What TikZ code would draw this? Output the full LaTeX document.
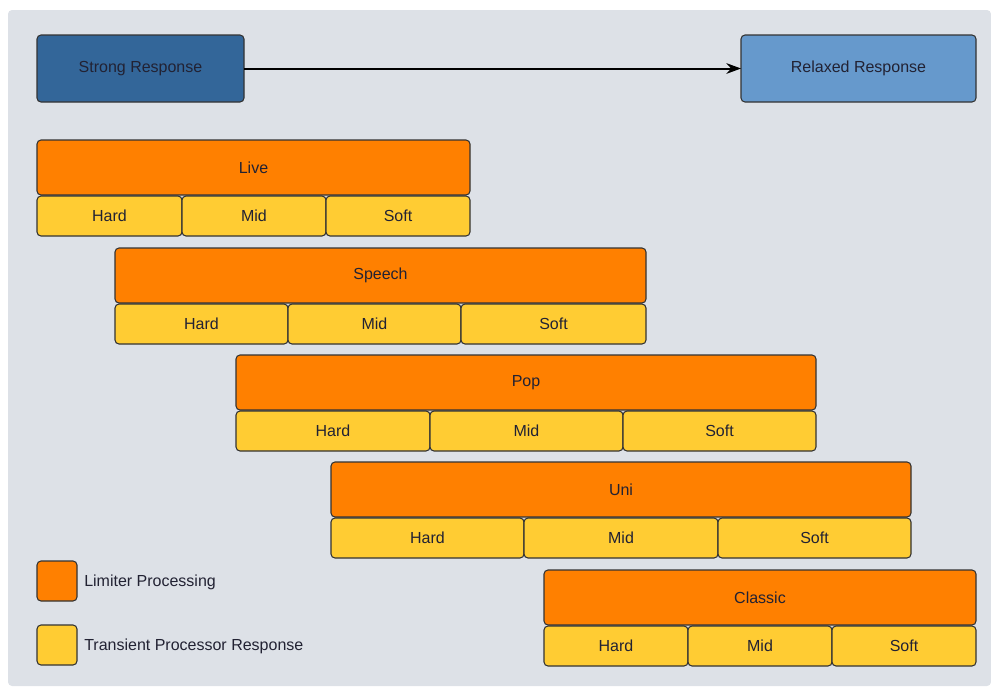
\documentclass[tikz,border=0pt]{standalone}
\usepackage{fontspec}
\setmainfont{Liberation Sans}
\definecolor{bgGrey}{HTML}{DDE1E7}
\definecolor{rDarkBlue}{HTML}{336699}
\definecolor{rLightBlue}{HTML}{6699CC}
\definecolor{limOrange}{HTML}{FF8000}
\definecolor{tranYellow}{HTML}{FFCC33}
\definecolor{edgeDark}{HTML}{333333}
\definecolor{txtDark}{HTML}{222233}
\usepackage{tikz}
\usetikzlibrary{positioning,arrows.meta}

\begin{document}
\begin{tikzpicture}[x=0.75pt, y=-0.75pt,
  every node/.style={font=\fontsize{12}{14}\selectfont, text=txtDark},
  cell/.style={draw=edgeDark, line width=0.8pt, rounded corners=3pt, inner sep=0pt, outer sep=0pt},
  respbox/.style={cell, minimum height=67*0.75pt},
  limbox/.style={cell, fill=limOrange, minimum height=55*0.75pt},
  tranbox/.style={cell, fill=tranYellow, minimum height=40*0.75pt},
  legbox/.style={cell, minimum width=40*0.75pt, minimum height=40*0.75pt}]
\useasboundingbox (0,0) rectangle (991,686);
\fill[bgGrey, rounded corners=3pt] (8,10) rectangle (991,686);
% response scale
\node[respbox, fill=rDarkBlue, minimum width=207*0.75pt] (strong) at (140.5,68.5) {Strong Response};
\node[respbox, fill=rLightBlue, minimum width=235*0.75pt] (relaxed) at (858.5,68.5) {Relaxed Response};
\draw[-{Stealth[length=11pt, width=8pt]}, line width=1.5pt] (strong.east) -- (relaxed.west);
% presets: name / left / divider 1 / divider 2 / right / top
\foreach \preset/\lx/\ax/\bx/\rx/\ty in {Live/37/182/326/470/140, Speech/115/288/461/646/248, Pop/236/430/623/816/355, Uni/331/524/718/911/462, Classic/544/688/832/976/570} {
  \node[limbox, minimum width={(\rx-\lx)*0.75pt}] (\preset) at ({(\lx+\rx)/2},{\ty+27.5}) {\preset};
  \node[tranbox, minimum width={(\ax-\lx)*0.75pt}] (\preset-hard) at ({(\lx+\ax)/2},{\ty+76}) {Hard};
  \node[tranbox, minimum width={(\bx-\ax)*0.75pt}] (\preset-mid) at ({(\ax+\bx)/2},{\ty+76}) {Mid};
  \node[tranbox, minimum width={(\rx-\bx)*0.75pt}] (\preset-soft) at ({(\bx+\rx)/2},{\ty+76}) {Soft};
}
% legend
\node[legbox, fill=limOrange] (leglim) at (57,581) {};
\node[legbox, fill=tranYellow] (legtran) at (57,645) {};
\node[right=5.25pt of leglim, inner sep=0pt, yshift=-1pt] (leglimtext) {Limiter Processing};
\node[right=5.25pt of legtran, inner sep=0pt, yshift=-1pt] (legtrantext) {Transient Processor Response};
\end{tikzpicture}
\end{document}
